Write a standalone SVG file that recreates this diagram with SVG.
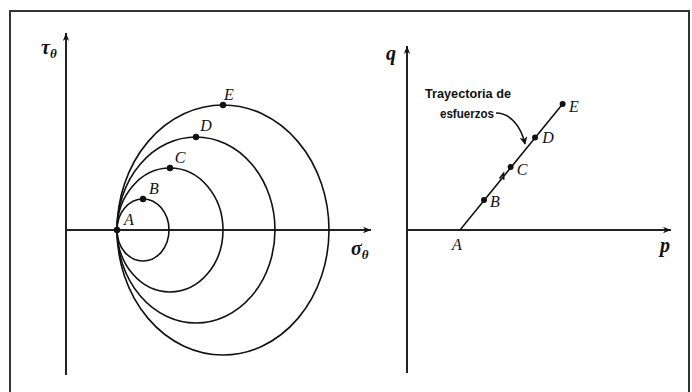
<svg xmlns="http://www.w3.org/2000/svg" width="692" height="392" viewBox="0 0 692 392">
<defs>
<marker id="ah" viewBox="0 0 10 10" refX="10" refY="5" markerWidth="8" markerHeight="8" markerUnits="userSpaceOnUse" orient="auto">
<path d="M0,1 L10,5 L0,9 L3,5 Z" fill="#111"/>
</marker>
<marker id="ah2" viewBox="0 0 10 10" refX="9" refY="5" markerWidth="8" markerHeight="8" markerUnits="userSpaceOnUse" orient="auto">
<path d="M0,0 L10,5 L0,10 L3,5 Z" fill="#111"/>
</marker>
<style>
.ax{stroke:#222;stroke-width:2;fill:none}
.c{stroke:#111;stroke-width:1.6;fill:none}
.lbl{font-family:"Liberation Serif",serif;font-style:italic;font-size:16px;fill:#111}
.big{font-family:"Liberation Serif",serif;font-style:italic;font-weight:bold;font-size:20px;fill:#111}
.note{font-family:"Liberation Sans",sans-serif;font-weight:bold;font-size:12px;fill:#111}
.dot{fill:#111}
</style>
</defs>
<rect width="692" height="392" fill="#fff"/>
<rect x="10" y="11" width="679" height="400" fill="none" stroke="#333" stroke-width="2"/>

<g id="connectors">
<line class="ax" x1="66" y1="375" x2="66" y2="33" marker-end="url(#ah)"/>
<line class="ax" x1="66" y1="230" x2="371" y2="230" marker-end="url(#ah)"/>
<line class="ax" x1="407" y1="373" x2="407" y2="46" marker-end="url(#ah)"/>
<line class="ax" x1="407" y1="230" x2="671" y2="230" marker-end="url(#ah)"/>
<line class="c" x1="460" y1="230" x2="562.6" y2="104"/>
<path class="c" d="M499.5,178.5 L503.5,173.5 L503.8,179.8" stroke-width="1.4"/>
<path class="c" d="M496,113 C510,113 521,126 525,144" stroke-width="1.4" marker-end="url(#ah2)"/>
</g>

<g id="circles">
<ellipse class="c" cx="143" cy="230" rx="26" ry="31"/>
<ellipse class="c" cx="170" cy="230" rx="53" ry="62"/>
<ellipse class="c" cx="196" cy="230" rx="79" ry="93"/>
<ellipse class="c" cx="223" cy="230" rx="106" ry="125"/>
</g>

<g id="nodeA-left"><circle class="dot" cx="117" cy="230" r="3.2"/><text class="lbl" x="129" y="225" text-anchor="middle">A</text></g>
<g id="nodeB-left"><circle class="dot" cx="143" cy="199" r="3.2"/><text class="lbl" x="154" y="194" text-anchor="middle">B</text></g>
<g id="nodeC-left"><circle class="dot" cx="170" cy="168" r="3.2"/><text class="lbl" x="180" y="163" text-anchor="middle">C</text></g>
<g id="nodeD-left"><circle class="dot" cx="196" cy="137" r="3.2"/><text class="lbl" x="206" y="131" text-anchor="middle">D</text></g>
<g id="nodeE-left"><circle class="dot" cx="223" cy="105" r="3.2"/><text class="lbl" x="229" y="100" text-anchor="middle">E</text></g>

<g id="axis-labels">
<text class="big" x="41" y="54">τ<tspan font-size="13" dy="4">θ</tspan></text>
<text class="big" x="351" y="255">σ<tspan font-size="13" dy="4">θ</tspan></text>
<text class="big" x="391" y="60" text-anchor="middle">q</text>
<text class="big" x="665" y="252" text-anchor="middle">p</text>
</g>

<g id="nodeA-right"><text class="lbl" x="457" y="250" text-anchor="middle">A</text></g>
<g id="nodeB-right"><circle class="dot" cx="484" cy="200" r="3"/><text class="lbl" x="495" y="207" text-anchor="middle">B</text></g>
<g id="nodeC-right"><circle class="dot" cx="510.6" cy="167" r="3"/><text class="lbl" x="522" y="175" text-anchor="middle">C</text></g>
<g id="nodeD-right"><circle class="dot" cx="535" cy="137.5" r="3"/><text class="lbl" x="548" y="143" text-anchor="middle">D</text></g>
<g id="nodeE-right"><circle class="dot" cx="562.6" cy="104" r="3"/><text class="lbl" x="574" y="112" text-anchor="middle">E</text></g>

<g id="note">
<text class="note" x="425" y="98" textLength="86" lengthAdjust="spacingAndGlyphs">Trayectoria de</text>
<text class="note" x="440" y="118" textLength="54" lengthAdjust="spacingAndGlyphs">esfuerzos</text>
</g>
</svg>
